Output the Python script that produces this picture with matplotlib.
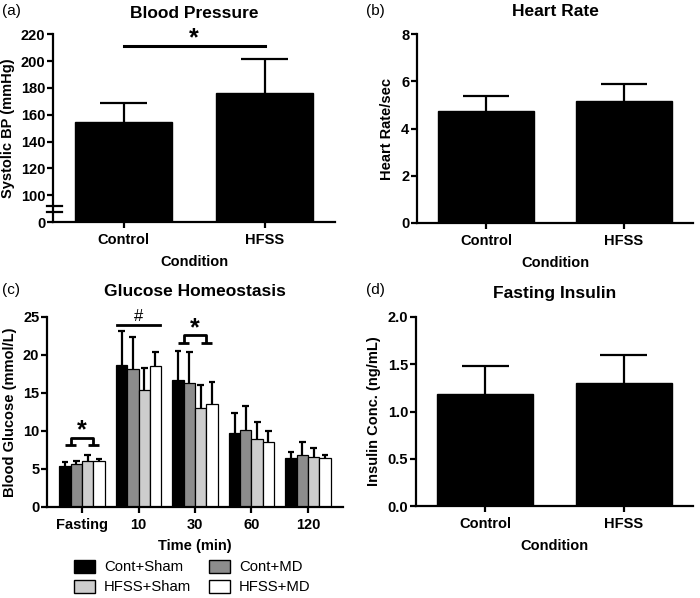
import numpy as np
import matplotlib
matplotlib.use('Agg')
import matplotlib.pyplot as plt
import matplotlib.transforms as mtransforms
from matplotlib.patches import Patch

# ---- data ----
conditions = ['Control', 'HFSS']

# (a) systolic blood pressure (mmHg)
bp_mean = [154.5, 176.5]
bp_sem = [14.3, 24.8]

# (b) heart rate
hr_mean = [4.76, 5.18]
hr_sem = [0.61, 0.72]

# (d) fasting insulin (ng/mL)
ins_mean = [1.18, 1.305]
ins_sem = [0.30, 0.295]

# (c) blood glucose (mmol/L) per time point
time_labels = ['Fasting', '10', '30', '60', '120']
group_names = ['Cont+Sham', 'Cont+MD', 'HFSS+Sham', 'HFSS+MD']
group_colors = ['#000000', '#8c8c8c', '#cdcdcd', '#ffffff']
cont_sham = [5.4, 18.7, 16.75, 9.7, 6.4]
cont_md = [5.6, 18.2, 16.3, 10.1, 6.8]
hfss_sham = [6.0, 15.4, 13.0, 8.95, 6.6]
hfss_md = [6.05, 18.5, 13.6, 8.55, 6.4]
cont_sham_sem = [0.5, 4.4, 3.75, 2.7, 0.9]
cont_md_sem = [0.5, 4.2, 4.05, 3.2, 1.8]
hfss_sham_sem = [0.8, 2.9, 3.0, 2.25, 1.1]
hfss_md_sem = [0.25, 1.9, 2.8, 1.45, 0.5]

plt.rcParams['font.family'] = ['Liberation Sans', 'DejaVu Sans']
plt.rcParams['font.weight'] = 'bold'
plt.rcParams['axes.labelweight'] = 'bold'
plt.rcParams['axes.titleweight'] = 'bold'

LW = 1.6
W, H = 700, 598


def style(ax):
    for s in ['top', 'right']:
        ax.spines[s].set_visible(False)
    for s in ['left', 'bottom']:
        ax.spines[s].set_linewidth(LW)
    ax.tick_params(direction='out', length=4, width=LW, labelsize=10.5, pad=1.5)
    ax.tick_params(axis='x', pad=4)


def px_axes(left, right, top, bottom):
    return fig.add_axes([left / W, 1 - bottom / H, (right - left) / W, (bottom - top) / H])


def up_errors(ax, x, tops, err, half):
    # one-sided (upper) error bars: stem from bar top plus a cap
    x = np.asarray(x, dtype=float)
    tops = np.asarray(tops, dtype=float)
    ends = tops + np.asarray(err)
    ax.vlines(x, tops, ends, color='black', lw=LW, zorder=1)
    ax.hlines(ends, x - half, x + half, color='black', lw=LW, zorder=1)


def simple_bars(ax, means, sems, offset=0.0):
    x = np.arange(len(means))
    m = np.array(means) - offset
    ax.bar(x, m, width=0.69, color='black', edgecolor='black', zorder=2)
    up_errors(ax, x, m, sems, 0.17)
    ax.set_xticks(x)
    ax.set_xticklabels(conditions)
    ax.set_xlim(-0.5, 1.5)
    ax.set_xlabel('Condition', fontsize=10.5, labelpad=6)


fig = plt.figure(figsize=(7.0, 5.98), dpi=100)

# (a) Blood pressure with broken axis (0 then 100..220)
ax = px_axes(53, 335, 34.3, 222)
style(ax)
simple_bars(ax, bp_mean, bp_sem, offset=80)
ax.set_ylim(0, 140)
ax.set_yticks([0] + list(range(20, 141, 20)))
ax.set_yticklabels(['0'] + [str(v) for v in range(100, 221, 20)])
ax.set_ylabel('Systolic BP (mmHg)', fontsize=10.5, labelpad=4)
ax.set_title('Blood Pressure', fontsize=12.5, pad=12)
tr = mtransforms.blended_transform_factory(ax.transAxes, ax.transData)
for yb in [7.5, 11.8]:
    ax.plot([-0.022, 0.032], [yb, yb], transform=tr, color='black', lw=LW, clip_on=False)
ax.plot([0, 1], [211.6 - 80] * 2, color='black', lw=2.2, clip_on=False)
ax.text(0.5, 208 - 80, '*', ha='center', va='bottom', fontsize=18)

# (b) Heart rate
ax = px_axes(417, 693, 34.3, 223)
style(ax)
simple_bars(ax, hr_mean, hr_sem)
ax.set_ylim(0, 8)
ax.set_yticks([0, 2, 4, 6, 8])
ax.set_ylabel('Heart Rate/sec', fontsize=10.5, labelpad=5)
ax.set_title('Heart Rate', fontsize=12.5, pad=13)

# (d) Fasting insulin
ax = px_axes(416, 693, 317, 506)
style(ax)
simple_bars(ax, ins_mean, ins_sem)
ax.set_ylim(0, 2.0)
ax.set_yticks([0, 0.5, 1.0, 1.5, 2.0])
ax.set_yticklabels(['0.0', '0.5', '1.0', '1.5', '2.0'])
ax.set_ylabel('Insulin Conc. (ng/mL)', fontsize=10.5, labelpad=5)
ax.set_title('Fasting Insulin', fontsize=12.5, pad=14)

# (c) Glucose homeostasis
ax = px_axes(47, 343, 317, 507)
style(ax)
xg = np.arange(len(time_labels))
bw = 0.2
series = [cont_sham, cont_md, hfss_sham, hfss_md]
sems = [cont_sham_sem, cont_md_sem, hfss_sham_sem, hfss_md_sem]
for i, (vals, err) in enumerate(zip(series, sems)):
    xs = xg + (i - 1.5) * bw
    ax.bar(xs, vals, width=bw, color=group_colors[i], edgecolor='black', linewidth=0.9, zorder=2)
    up_errors(ax, xs, vals, err, 0.06)
ax.set_xlim(-0.62, 4.62)
ax.set_ylim(0, 25)
ax.set_yticks([0, 5, 10, 15, 20, 25])
ax.set_xticks(xg)
ax.set_xticklabels(time_labels)
ax.set_xlabel('Time (min)', fontsize=10.5, labelpad=5)
ax.set_ylabel('Blood Glucose (mmol/L)', fontsize=10.5, labelpad=4)
ax.set_title('Glucose Homeostasis', fontsize=12.5, pad=15)


def bracket(ax, gx, low, high):
    c = [gx + (i - 1.5) * bw for i in range(4)]
    kw = dict(color='black', lw=2.0, clip_on=False, solid_capstyle='butt')
    ax.plot([c[0], c[1]], [low, low], **kw)
    ax.plot([c[2], c[3]], [low, low], **kw)
    m1, m2 = (c[0] + c[1]) / 2, (c[2] + c[3]) / 2
    ax.plot([m1, m1, m2, m2], [low, high, high, low], **kw)


bracket(ax, 0, 8.2, 9.1)
ax.text(0, 8.5, '*', ha='center', va='bottom', fontsize=18)
bracket(ax, 2, 21.6, 22.6)
ax.text(2, 21.9, '*', ha='center', va='bottom', fontsize=18)
ax.plot([1 - 0.38, 1 + 0.38], [23.9, 23.9], color='black', lw=2.0, clip_on=False)
ax.text(1, 24.1, '#', ha='center', va='bottom', fontsize=12, fontweight='normal')

handles = [Patch(facecolor=c, edgecolor='black', linewidth=1.0) for c in group_colors]
order = [0, 2, 1, 3]
fig.legend([handles[i] for i in order], [group_names[i] for i in order], ncol=2,
           loc='center', bbox_to_anchor=(0.275, 1 - 577 / H), frameon=False,
           prop={'weight': 'normal', 'size': 10.7}, handlelength=1.4, handleheight=1.0,
           handletextpad=0.6, columnspacing=1.2, labelspacing=0.35)

# panel letters
for lab, x, y in [('(a)', 2, 15), ('(b)', 366, 15), ('(c)', 2, 294), ('(d)', 366, 294)]:
    fig.text(x / W, 1 - y / H, lab, fontsize=11, fontweight='normal', va='baseline')

fig.savefig('out.png', dpi=100)
